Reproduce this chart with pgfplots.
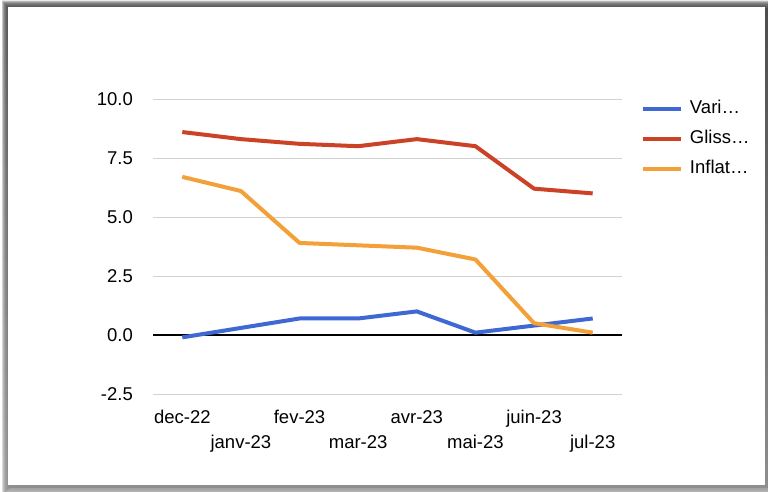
\documentclass[border=0pt]{standalone}
\usepackage{fontspec}
\setmainfont{Liberation Sans}
\usepackage{pgfplots}
\pgfplotsset{compat=1.18}
\definecolor{sblue}{RGB}{64,104,210}
\definecolor{sred}{RGB}{204,66,38}
\definecolor{sorange}{RGB}{243,160,56}
\definecolor{shade}{RGB}{78,98,68}
\definecolor{gridgray}{RGB}{210,210,210}

\begin{document}
\begin{tikzpicture}[x=1pt,y=1pt]
\useasboundingbox (0,0) rectangle (768,491);
\fill[white] (0,0) rectangle (768,491);
% card shadow
\foreach \i in {8,7,...,1} {
  \fill[shade, opacity=0.17] (10-\i,4-\i) rectangle (767+\i,482+\i);
}
\fill[white] (8,6) rectangle (765,484);

\begin{axis}[
    at={(153pt,97pt)}, anchor=south west,
    scale only axis, width=469pt, height=295pt,
    xmin=-0.5, xmax=7.5, ymin=-2.5, ymax=10,
    axis line style={draw=none},
    tick style={draw=none},
    ytick={-2.5,0,2.5,5,7.5,10},
    ymajorgrids=true,
    grid style={gridgray, line width=1pt},
    extra y ticks={0},
    extra y tick labels={},
    extra y tick style={grid style={black, line width=1.2pt}},
    xtick={0,...,7},
    xticklabels={dec-22,\raisebox{-25pt}{janv-23},fev-23,\raisebox{-25pt}{mar-23},avr-23,\raisebox{-25pt}{mai-23},juin-23,\raisebox{-25pt}{jul-23}},
    tick label style={font=\fontsize{18.5}{20}\selectfont},
    yticklabel style={/pgf/number format/fixed, /pgf/number format/fixed zerofill,
        /pgf/number format/precision=1, /pgf/number format/assume math mode=true,
        anchor=east, inner sep=0pt, xshift=-20pt},
    xticklabel style={anchor=base, inner sep=0pt, yshift=-29pt},
    legend style={draw=none, fill=none, inner sep=0pt, outer sep=0pt,
        row sep=13pt, column sep=7pt,
        at={(1.0405,0.996)}, anchor=north west,
        font=\fontsize{18.5}{20}\selectfont,
        nodes={inner sep=0pt, text height=13pt, text depth=4pt}},
    legend cell align=left,
    legend image code/.code={\draw[#1] (0pt,0pt) -- (38pt,0pt);},
    every axis plot/.append style={line width=4pt, line join=round},
]
\addplot[sblue] coordinates {
    (0,-0.1) (1,0.3) (2,0.7) (3,0.7) (4,1.0) (5,0.1) (6,0.4) (7,0.7)
};
\addlegendentry{Vari…}
\addplot[sred] coordinates {
    (0,8.6) (1,8.3) (2,8.1) (3,8.0) (4,8.3) (5,8.0) (6,6.2) (7,6.0)
};
\addlegendentry{Gliss…}
\addplot[sorange] coordinates {
    (0,6.7) (1,6.1) (2,3.9) (3,3.8) (4,3.7) (5,3.2) (6,0.5) (7,0.1)
};
\addlegendentry{Inflat…}
\end{axis}
\end{tikzpicture}
\end{document}
